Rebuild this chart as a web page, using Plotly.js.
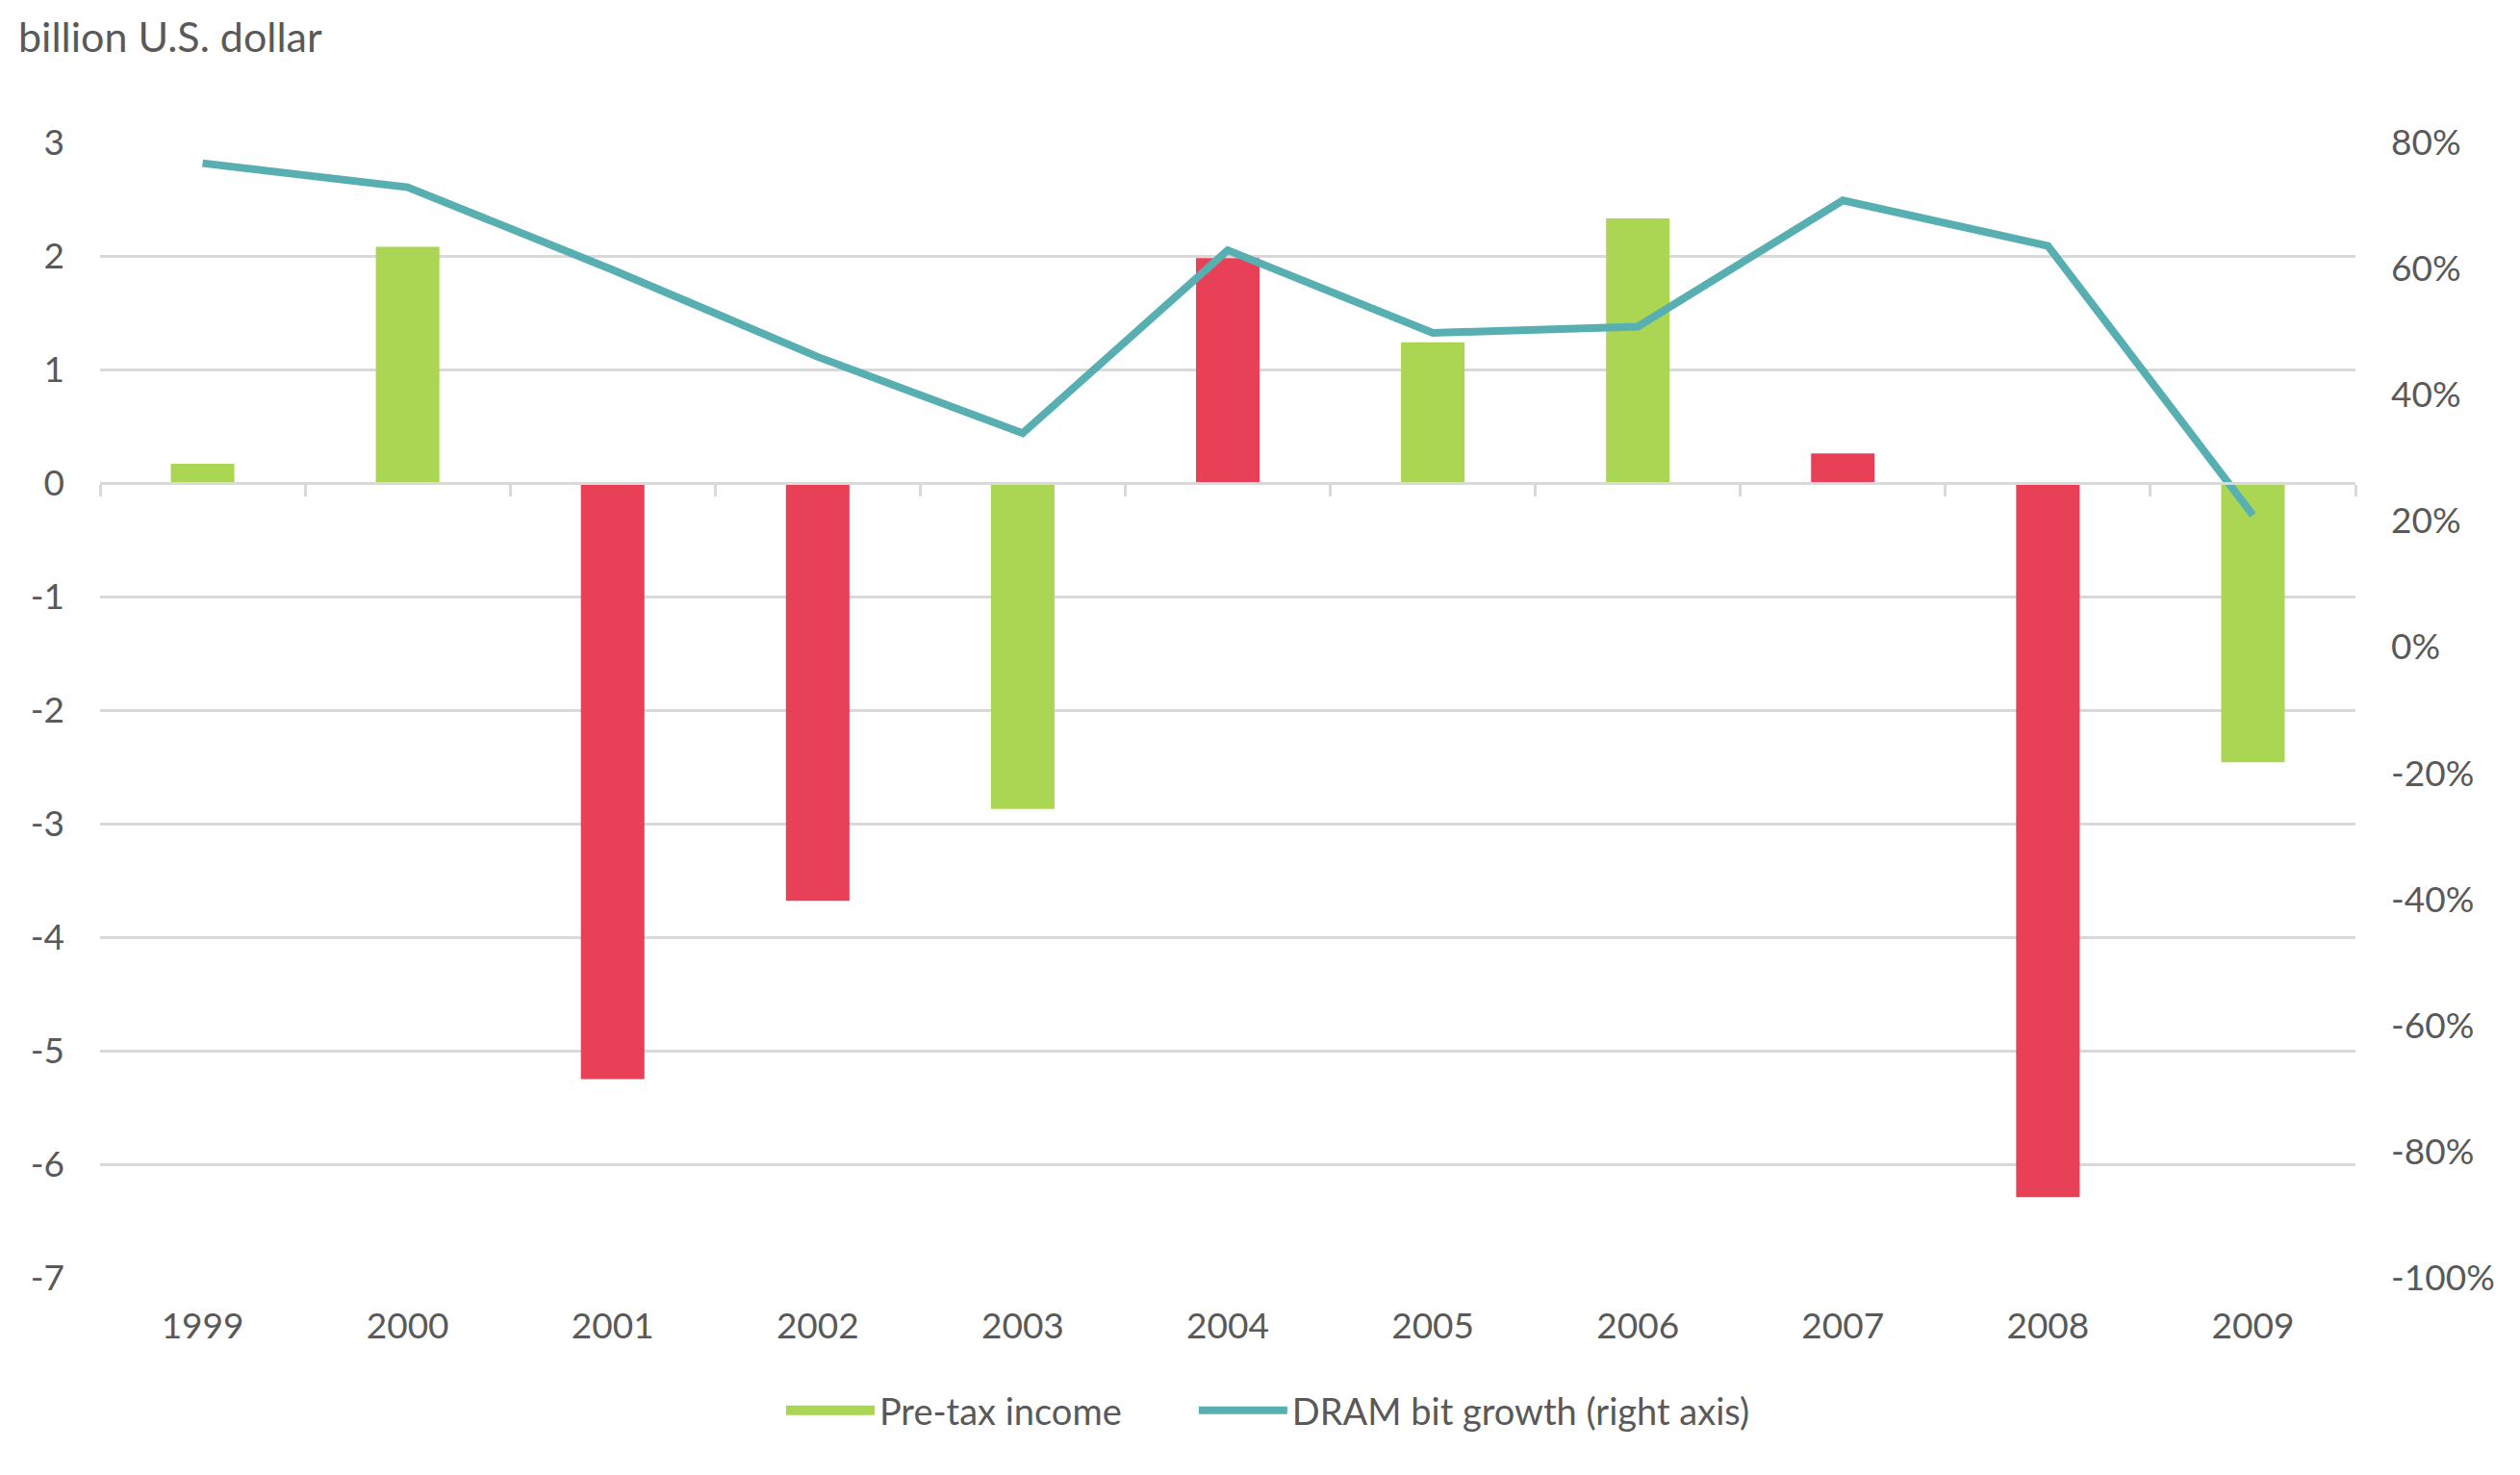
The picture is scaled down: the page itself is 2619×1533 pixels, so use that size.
<!DOCTYPE html>
<html>
<head>
<meta charset="utf-8">
<script src="https://cdn.plot.ly/plotly-3.0.1.min.js"></script>
<style>html,body{margin:0;padding:0;background:#fff;}#chart{width:2619px;height:1533px;}</style>
</head>
<body>
<div id="chart"></div>
<script>
// ---- data ----
var years = ["1999","2000","2001","2002","2003","2004","2005","2006","2007","2008","2009"];
var pretaxIncome = [0.17, 2.08, -5.25, -3.68, -2.87, 1.98, 1.24, 2.33, 0.26, -6.29, -2.46];
var dramBitGrowth = [0.767, 0.729, 0.598, 0.46, 0.339, 0.629, 0.498, 0.508, 0.708, 0.636, 0.209];
var leftTickVals = [3, 2, 1, 0, -1, -2, -3, -4, -5, -6, -7];
var leftTickText = ["3", "2", "1", "0", "-1", "-2", "-3", "-4", "-5", "-6", "-7"];
var rightTickVals = [0.8, 0.6, 0.4, 0.2, 0, -0.2, -0.4, -0.6, -0.8, -1.0];
var rightTickText = ["80%", "60%", "40%", "20%", "0%", "-20%", "-40%", "-60%", "-80%", "-100%"];
var redYears = ["2001","2002","2004","2007","2008"];

// ---- style ----
var GREEN = "#ABD653", RED = "#E84057", TEAL = "#58AFB1", TXT = "#595959", GRID = "#D9D9D9";
var FONT = "Lato, 'Open Sans', sans-serif";
var TICK_SIZE = 37, LEG_SIZE = 38, TITLE_SIZE = 43;
var barColors = years.map(function (y) { return redYears.indexOf(y) >= 0 ? RED : GREEN; });
var nulls = years.map(function () { return null; });

var traces = [
  {
    type: "bar", name: "Pre-tax income", x: years, y: pretaxIncome,
    marker: { color: barColors, line: { width: 0 } },
    xaxis: "x", yaxis: "y", showlegend: false, hoverinfo: "x+y"
  },
  {
    type: "scatter", mode: "lines", name: "DRAM bit growth (right axis)",
    x: years, y: dramBitGrowth,
    line: { color: TEAL, width: 8 },
    xaxis: "x", yaxis: "y2", legend: "legend2"
  },
  {
    // legend key for the bar series (wide green swatch, no marks drawn)
    type: "scatter", mode: "lines", name: "Pre-tax income", x: years, y: nulls,
    line: { color: GREEN, width: 24 }, xaxis: "x", yaxis: "y",
    legend: "legend", hoverinfo: "skip"
  },
  {
    // helper (invisible) to carry the zero-line category axis with boundary ticks
    type: "scatter", mode: "none", x: years, y: nulls,
    xaxis: "x2", yaxis: "y", showlegend: false, hoverinfo: "skip"
  }
];

var legendBase = {
  orientation: "h", xanchor: "left", y: -0.117, yanchor: "middle",
  font: { family: FONT, size: LEG_SIZE, color: TXT },
  itemwidth: 92, bgcolor: "rgba(0,0,0,0)"
};

var layout = {
  width: 2619, height: 1533,
  margin: { l: 104, r: 171, t: 148, b: 205, pad: 0 },
  paper_bgcolor: "#fff", plot_bgcolor: "#fff",
  font: { family: FONT, size: TICK_SIZE, color: TXT },
  bargap: 0.69,
  showlegend: true,
  legend: Object.assign({}, legendBase, { x: 0.302 }),
  legend2: Object.assign({}, legendBase, { x: 0.485 }),
  xaxis: {
    type: "category", domain: [0, 1], range: [-0.5, 10.5],
    showgrid: false, zeroline: false, showline: false, ticks: "",
    tickfont: { family: FONT, size: TICK_SIZE, color: TXT },
    ticklabelstandoff: 25, fixedrange: true
  },
  xaxis2: {
    type: "category", overlaying: "x", anchor: "free", position: 0.7,
    range: [-0.5, 10.5], matches: "x",
    showgrid: false, zeroline: false, showline: true, linecolor: GRID, linewidth: 3,
    ticks: "outside", tickson: "boundaries", ticklen: 12, tickwidth: 3, tickcolor: GRID,
    showticklabels: false, side: "bottom"
  },
  yaxis: {
    range: [-7, 3], tickvals: leftTickVals, ticktext: leftTickText,
    showgrid: true, gridcolor: GRID, gridwidth: 3,
    zeroline: false, showline: false, ticks: "",
    tickfont: { family: FONT, size: TICK_SIZE, color: TXT },
    ticklabelstandoff: 36, fixedrange: true
  },
  yaxis2: {
    overlaying: "y", side: "right", range: [-1.0, 0.8],
    tickvals: rightTickVals, ticktext: rightTickText,
    showgrid: false, zeroline: false, showline: false, ticks: "",
    tickfont: { family: FONT, size: TICK_SIZE, color: TXT },
    ticklabelstandoff: 36, fixedrange: true
  },
  annotations: [
    {
      text: "billion U.S. dollar", xref: "paper", yref: "paper",
      x: -0.0371, xanchor: "left", y: 1.094, yanchor: "middle",
      showarrow: false, font: { family: FONT, size: TITLE_SIZE, color: TXT }
    }
  ]
};

Plotly.newPlot("chart", traces, layout, { staticPlot: true, displayModeBar: false });
</script>
</body>
</html>
